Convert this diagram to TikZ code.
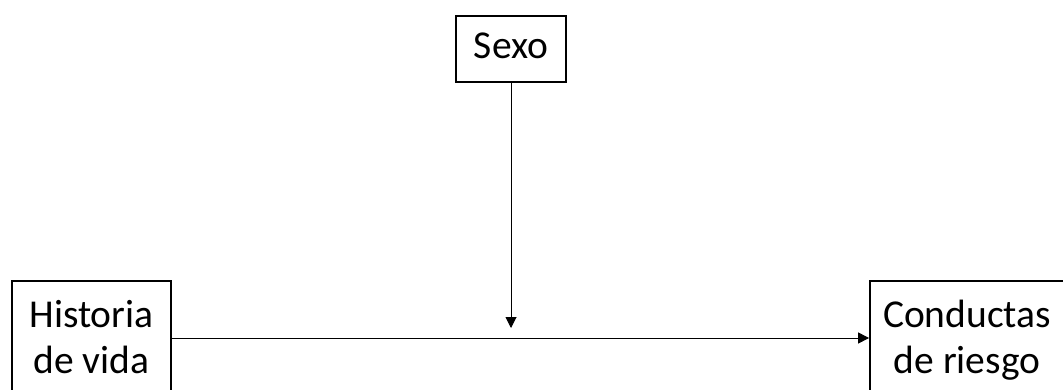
\documentclass[tikz,border=0pt]{standalone}
\usepackage{fontspec}
\setmainfont{Carlito}
\usetikzlibrary{arrows.meta}
\begin{document}
\begin{tikzpicture}[x=1pt,y=-1pt,
  box/.style={draw=black,line width=1.8pt,rectangle,inner sep=0pt,align=center,
    font=\fontsize{39.5}{46}\selectfont},
  conn/.style={draw=black,line width=1pt,-{Triangle[length=11pt,width=11pt]}}]
\clip (0,0) rectangle (1063,390);
\useasboundingbox (0,0) rectangle (1063,390);
\node[box,minimum width=110pt,minimum height=66pt,text height=26pt,text depth=7pt] (sexo) at (511,49) {Sexo};
\node[box,minimum width=159pt,minimum height=114pt,text height=70pt,text depth=0pt] (hist) at (91.5,338) {Historia\\de vida};
\node[box,minimum width=194pt,minimum height=114pt,text height=70pt,text depth=0pt] (cond) at (967,338) {Conductas\\de riesgo};
\coordinate (mid) at (511,328);
\draw[conn] (sexo.south) -- (mid);
\draw[conn] (hist.east) -- (cond.west);
\end{tikzpicture}
\end{document}
